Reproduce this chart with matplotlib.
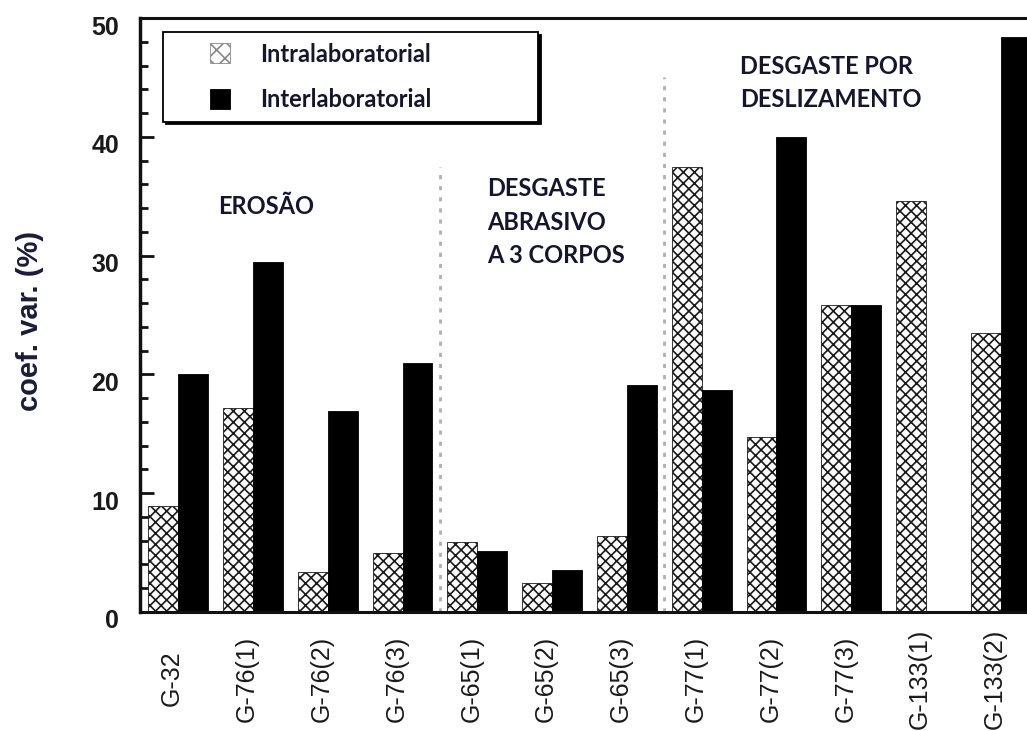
import matplotlib
matplotlib.use("Agg")
import matplotlib.pyplot as plt
import numpy as np
from matplotlib.transforms import ScaledTranslation
from matplotlib.patches import Rectangle
from matplotlib.legend_handler import HandlerPatch
from matplotlib.container import BarContainer

categories = ["G-32", "G-76(1)", "G-76(2)", "G-76(3)", "G-65(1)", "G-65(2)",
              "G-65(3)", "G-77(1)", "G-77(2)", "G-77(3)", "G-133(1)", "G-133(2)"]
intra = [8.9, 17.2, 3.4, 5.0, 5.9, 2.4, 6.4, 37.5, 14.7, 25.8, 34.6, 23.5]
inter = [20.0, 29.5, 16.9, 21.0, 5.1, 3.5, 19.1, 18.7, 40.0, 25.8, 0.0, 48.4]
series_names = ["Intralaboratorial", "Interlaboratorial"]
group_labels = ["EROSÃO", "DESGASTE\nABRASIVO\nA 3 CORPOS", "DESGASTE POR\nDESLIZAMENTO"]
ylabel = "coef. var. (%)"

W, H = 1027, 731
fig = plt.figure(figsize=(W / 100, H / 100), dpi=100)
ax = fig.add_axes([140 / W, 119 / H, 899 / W, 594 / H])

x = np.arange(len(categories))
bw = 0.4
plt.rcParams['hatch.linewidth'] = 1.2
ax.bar(x - bw / 2, intra, width=bw, facecolor="white", edgecolor="#1a1a1a",
       hatch="xxx", linewidth=0.6, label=series_names[0], zorder=2)
ax.bar(x + bw / 2, inter, width=bw, facecolor="black", edgecolor="black",
       linewidth=0.6, label=series_names[1], zorder=2)

ax.set_xlim(-0.51, len(categories) - 0.49)
ax.set_ylim(0, 50)

# separators
ax.plot([3.5, 3.5], [0, 37.5], color="#b0b0b0", lw=2, ls=(0, (1.5, 2.5)), zorder=1)
ax.plot([6.5, 6.5], [0, 45.0], color="#b0b0b0", lw=2, ls=(0, (1.5, 2.5)), zorder=1)

# spines
ax.spines["right"].set_visible(False)
for s, lw in [("left", 2.5), ("bottom", 2.2), ("top", 2.2)]:
    ax.spines[s].set_linewidth(lw)
    ax.spines[s].set_color("#111111")

# y ticks
ax.set_yticks(np.arange(0, 51, 10))
ax.set_yticks(np.arange(0, 51, 2), minor=True)
ax.tick_params(axis="y", which="major", direction="in", length=10, width=2,
               pad=15, labelsize=18, colors="#111111")
ax.tick_params(axis="y", which="minor", direction="in", length=6, width=2,
               colors="#111111")
for lab in ax.get_yticklabels():
    lab.set_fontweight("bold")
    lab.set_fontfamily("Liberation Sans")
    lab.set_color("#1a1a1a")
    lab.set_transform(lab.get_transform() + ScaledTranslation(0, -7 / 100, fig.dpi_scale_trans))

# x ticks
ax.set_xticks(x)
ax.set_xticklabels(categories, rotation=90, va="center", ha="center",
                   fontsize=18, fontfamily="Liberation Sans", color="#1a1a1a")
ax.tick_params(axis="x", length=0, pad=48)
for lab in ax.get_xticklabels():
    lab.set_transform(lab.get_transform() + ScaledTranslation(-6 / 100, 0, fig.dpi_scale_trans))

# y label
ax.set_ylabel(ylabel, fontsize=21, fontweight="bold", fontfamily="Liberation Sans",
              color="#1c1c3a")
ax.yaxis.label.set_va("center")
ax.yaxis.set_label_coords((30 - 140) / 899, (612 - 321) / 594)

# group labels
tcol = "#15152e"
fnt = dict(fontsize=17, fontweight="bold", fontfamily="Lato", color=tcol,
           transform=fig.transFigure, ha="left", va="center", linespacing=1.55)
fig.text(218 / W, 1 - 206 / H, group_labels[0], **fnt)
fig.text(487 / W, 1 - 222 / H, group_labels[1], **fnt)
fig.text(740 / W, 1 - 83 / H, group_labels[2], **fnt)

# legend
def make_square(legend, orig_handle, xdescent, ydescent, width, height, fontsize):
    s = 20 / 100 * 72
    return Rectangle((width - s - xdescent, (height - s) / 2 - ydescent), s, s)

def upd(legend_handle, orig_handle):
    p = orig_handle.patches[0]
    legend_handle.set_facecolor(p.get_facecolor())
    legend_handle.set_edgecolor("#888888" if p.get_hatch() else "black")
    legend_handle.set_hatch("xx" if p.get_hatch() else None)
    legend_handle.set_linewidth(0.6)

h, l = ax.get_legend_handles_labels()
leg = ax.legend(h, l, loc="upper left",
                bbox_to_anchor=(163 / W, 1 - 125 / H, 375 / W, 93 / H),
                bbox_transform=fig.transFigure, mode="expand", borderaxespad=0,
                prop=dict(family="Lato", weight="bold", size=17),
                fancybox=False, shadow={"color": "black", "alpha": 1},
                framealpha=1, edgecolor="black", handlelength=2.4, handleheight=0.85,
                handletextpad=1.25, labelspacing=0.95, borderpad=0.45,
                handler_map={BarContainer: HandlerPatch(patch_func=make_square, update_func=upd)})
leg.get_frame().set_linewidth(1.3)
for t in leg.get_texts():
    t.set_color(tcol)

fig.savefig("out.png", dpi=100)
